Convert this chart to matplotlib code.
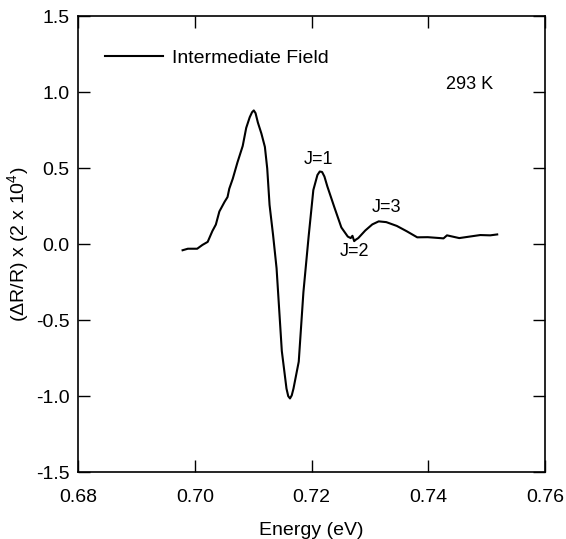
#!/usr/bin/env python3
"""Electroreflectance spectrum, intermediate field, 293 K."""

import matplotlib
matplotlib.use('Agg')
matplotlib.rcParams.update({
    'font.family': ['Liberation Sans', 'DejaVu Sans'],
    'font.size': 14,
    'mathtext.fontset': 'custom',
    'mathtext.rm': 'Liberation Sans',
    'mathtext.it': 'Liberation Sans:italic',
    'xtick.direction': 'in',
    'ytick.direction': 'in',
})
import matplotlib.pyplot as plt

# photon energy (eV)
energy = [
    0.6979, 0.6988, 0.7004, 0.7013, 0.7022, 0.7030, 0.7036, 0.7042,
    0.7051, 0.7056, 0.7059, 0.7065, 0.7073, 0.7082, 0.7088, 0.7094,
    0.7098, 0.7101, 0.7104, 0.7108, 0.7114, 0.7120, 0.7124, 0.7128,
    0.7134, 0.7140, 0.7149, 0.7157, 0.7160, 0.7163, 0.7166, 0.7169,
    0.7178, 0.7186, 0.7195, 0.7203, 0.7210, 0.7214, 0.7218, 0.7222,
    0.7227, 0.7239, 0.7251, 0.7262, 0.7267, 0.7270, 0.7273, 0.7276,
    0.7280, 0.7292, 0.7304, 0.7315, 0.7328, 0.7346, 0.7363, 0.7381,
    0.7399, 0.7420, 0.7426, 0.7432, 0.7453, 0.7471, 0.7489, 0.7506,
    0.7518,
]
# (dR/R) x (2 x 10^4)
signal = [
    -0.04, -0.03, -0.03, -0.005, 0.015, 0.086, 0.129, 0.215,
    0.279, 0.310, 0.365, 0.431, 0.538, 0.646, 0.765, 0.835,
    0.868, 0.880, 0.862, 0.800, 0.728, 0.640, 0.498, 0.258,
    0.061, -0.158, -0.703, -0.950, -1.000, -1.015, -0.995, -0.950,
    -0.773, -0.316, 0.053, 0.356, 0.455, 0.478, 0.475, 0.445,
    0.380, 0.243, 0.110, 0.050, 0.040, 0.055, 0.020, 0.030,
    0.040, 0.090, 0.130, 0.150, 0.145, 0.120, 0.085, 0.045,
    0.046, 0.040, 0.038, 0.058, 0.040, 0.050, 0.060, 0.058,
    0.064,
]

peak_labels = ["J=1", "J=2", "J=3"]
peak_x = [0.7212, 0.7274, 0.7328]
peak_y = [0.56, -0.045, 0.24]

xticks = [0.68, 0.70, 0.72, 0.74, 0.76]
yticks = [-1.5, -1.0, -0.5, 0.0, 0.5, 1.0, 1.5]


def main():
    fig = plt.figure(figsize=(5.66, 5.39), dpi=100)
    ax = fig.add_axes([0.138, 0.124, 0.825, 0.846])

    ax.plot(energy, signal, color='black', linewidth=1.5,
            solid_joinstyle='round', label='Intermediate Field')

    for txt, x, y in zip(peak_labels, peak_x, peak_y):
        ax.text(x, y, txt, ha='center', va='center', fontsize=13)
    ax.text(0.7431, 1.05, '293 K', ha='left', va='center', fontsize=13)

    ax.set_xlim(0.68, 0.76)
    ax.set_ylim(-1.5, 1.5)
    ax.set_xticks(xticks)
    ax.set_yticks(yticks)
    ax.set_xticklabels([f"{t:.2f}" for t in xticks])
    ax.set_yticklabels([f"{t:.1f}" for t in yticks])
    ax.tick_params(axis='both', which='both', top=True, right=True,
                   length=8.5, width=1.0, labelsize=14)
    ax.tick_params(axis='x', pad=12)
    ax.tick_params(axis='y', pad=6)
    for sp in ax.spines.values():
        sp.set_linewidth(1.2)

    ax.set_xlabel('Energy (eV)', fontsize=14, labelpad=12)
    ax.set_ylabel('(ΔR/R) x (2 x 10$^{4}$)', fontsize=14, labelpad=4)

    ax.legend(loc='upper left', bbox_to_anchor=(0.04, 0.945), frameon=False,
              handlelength=3.0, handletextpad=0.45, fontsize=14,
              borderaxespad=0)

    fig.savefig('out.png', dpi=100)
    plt.close(fig)


if __name__ == "__main__":
    main()
